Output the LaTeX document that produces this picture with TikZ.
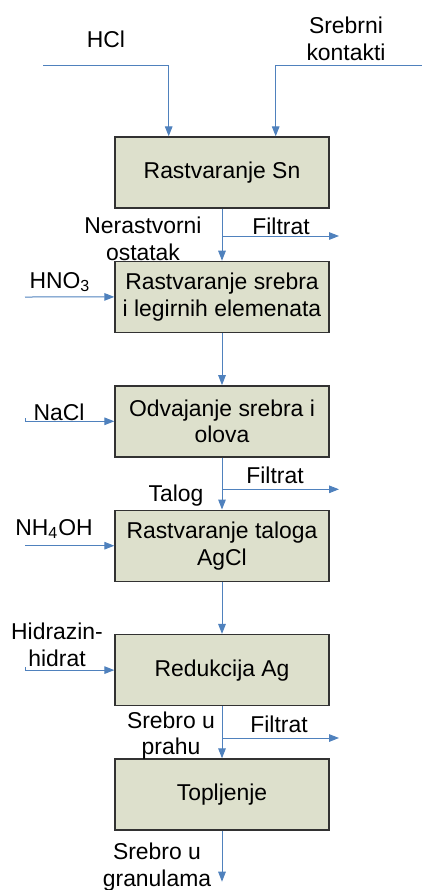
\documentclass[tikz,border=0pt]{standalone}
\usepackage{fontspec}
\setmainfont{Liberation Sans}
\usetikzlibrary{arrows.meta,calc}
\definecolor{boxfill}{RGB}{221,224,204}
\definecolor{flowblue}{RGB}{79,129,189}
\definecolor{boxline}{RGB}{50,50,50}

\begin{document}
\begin{tikzpicture}[x=0.5pt,y=-0.5pt,
        font=\fontsize{11.45pt}{13.4pt}\selectfont,
        stage/.style={
          draw=boxline, line width=0.7pt, fill=boxfill,
          minimum width=107pt, minimum height=35.5pt,
          align=center, inner sep=0pt
        },
        flow/.style={
          color=flowblue, line width=0.5pt,
          -{Triangle[length=5pt,width=3.8pt]}
        },
        lbl/.style={align=center, inner sep=0pt}
      ]
      \useasboundingbox (0,0) rectangle (422,890);
      % process stages
      \node [stage] (rsn)  at (222,172.5) {Rastvaranje Sn};
      \node [stage] (rag)  at (222,296.9) {Rastvaranje srebra\\i legirnih elemenata};
      \node [stage] (odv)  at (222,421.3) {Odvajanje srebra i\\olova};
      \node [stage] (rtal) at (222,545.7) {Rastvaranje taloga\\AgCl};
      \node [stage] (red)  at (222,670.1) {Redukcija Ag};
      \node [stage] (top)  at (222,794.5) {Topljenje};
      % free ends
      \coordinate (hcl)  at (43,65.7);
      \coordinate (kont) at (422,65.7);
      \coordinate (hno)  at (25,297);
      \coordinate (nacl) at (25,421.3);
      \coordinate (nh)   at (25,545.7);
      \coordinate (hid)  at (25,670.1);
      \coordinate (f1)   at (339,236);
      \coordinate (f2)   at (339,489.3);
      \coordinate (f3)   at (339,738);
      \coordinate (out)  at (222,881.7);
      % labels
      \node [lbl] (lhcl)  at (106,39)    {HCl};
      \node [lbl] (lkont) at (346,39)    {Srebrni\\kontakti};
      \node [lbl] (lner)  at (143,239)   {Nerastvorni\\ostatak};
      \node [lbl] (lf1)   at (281,226)   {Filtrat};
      \node [lbl] (lhno)  at (60,282)    {HNO\textsubscript{3}};
      \node [lbl] (lnacl) at (59,412)    {NaCl};
      \node [lbl] (lf2)   at (275,475)   {Filtrat};
      \node [lbl] (ltal)  at (176,496)   {Talog};
      \node [lbl] (lnh)   at (54,529)    {NH\textsubscript{4}OH};
      \node [lbl] (lhid)  at (57,644.5)  {Hidrazin-\\hidrat};
      \node [lbl] (lf3)   at (279,724)   {Filtrat};
      \node [lbl] (lprah) at (171,735.5) {Srebro u\\prahu};
      \node [lbl] (lgran) at (157,867)   {Srebro u\\granulama};
      % inputs
      \draw [flow] (hcl) -| ($(rsn.north)+(-53.3,0)$);
      \draw [flow] (kont) -| ($(rsn.north)+(53.7,0)$);
      \draw [flow] (hno) -- (rag.west);
      \draw [flow] ($(nacl)+(0,-3)$) -- (nacl) -- (odv.west);
      \draw [flow] (nh) -- (rtal.west);
      \draw [flow] ($(hid)+(0,-3)$) -- (hid) -- (red.west);
      % main line
      \draw [flow] (rsn.south) -- (rag.north);
      \draw [flow] (rag.south) -- (odv.north);
      \draw [flow] (odv.south) -- (rtal.north);
      \draw [flow] (rtal.south) -- (red.north);
      \draw [flow] (red.south) -- (top.north);
      \draw [flow] (top.south) -- (out);
      % filtrates
      \draw [flow] (rsn.south |- f1) -- (f1);
      \draw [flow] (odv.south |- f2) -- (f2);
      \draw [flow] (red.south |- f3) -- (f3);
    \end{tikzpicture}
\end{document}
